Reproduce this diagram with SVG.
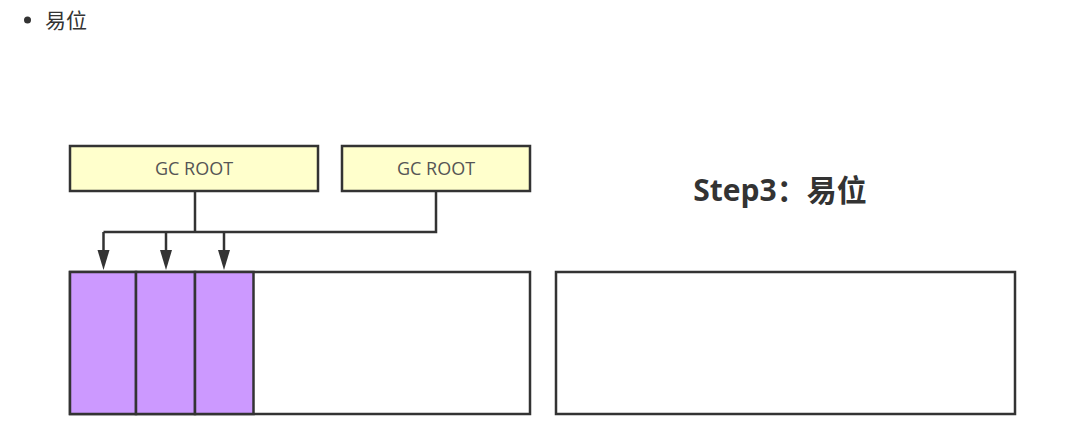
<svg xmlns="http://www.w3.org/2000/svg" width="1084" height="446" viewBox="0 0 1084 446">
<style>
.box{stroke:#333;stroke-width:2.5;}
.root{fill:#FFFFCC;}
.obj{fill:#CC99FF;}
.mem{fill:#fff;}
.lbl{font-family:"Open Sans","Noto Sans CJK SC",sans-serif;font-size:18px;fill:#555;text-anchor:middle;}
.conn{fill:none;stroke:#333;stroke-width:2.5;}
</style>
<rect width="1084" height="446" fill="#fff"/>
<g id="heading">
<circle cx="27.5" cy="20" r="3.5" fill="#333"/>
<text x="45" y="28" font-family="'Noto Sans CJK SC',sans-serif" font-size="21" fill="#333">易位</text>
</g>
<g id="title">
<text x="780" y="201" font-family="'Open Sans','Noto Sans CJK SC',sans-serif" font-size="30" font-weight="bold" fill="#333" text-anchor="middle">Step3：易位</text>
</g>
<g id="connectors">
<path class="conn" d="M195,192 V232"/>
<path class="conn" d="M436,192 V232 H103.5"/>
<path class="conn" d="M103.5,232 V250"/>
<path class="conn" d="M166,232 V250"/>
<path class="conn" d="M224,232 V250"/>
<path d="M97.5,250 H109.5 L103.5,270 Z" fill="#333"/>
<path d="M160,250 H172 L166,270 Z" fill="#333"/>
<path d="M218,250 H230 L224,270 Z" fill="#333"/>
</g>
<g id="root1">
<rect class="box root" x="70" y="146" width="248" height="45"/>
<text class="lbl" x="194" y="175">GC ROOT</text>
</g>
<g id="root2">
<rect class="box root" x="342" y="146" width="188" height="45"/>
<text class="lbl" x="436" y="175">GC ROOT</text>
</g>
<g id="heap-left">
<rect class="box mem" x="70" y="272" width="460" height="142"/>
<rect class="box obj" x="70" y="272" width="66" height="142"/>
<rect class="box obj" x="136" y="272" width="59" height="142"/>
<rect class="box obj" x="195" y="272" width="58.5" height="142"/>
</g>
<g id="heap-right">
<rect class="box mem" x="556" y="272" width="459" height="142"/>
</g>
</svg>
